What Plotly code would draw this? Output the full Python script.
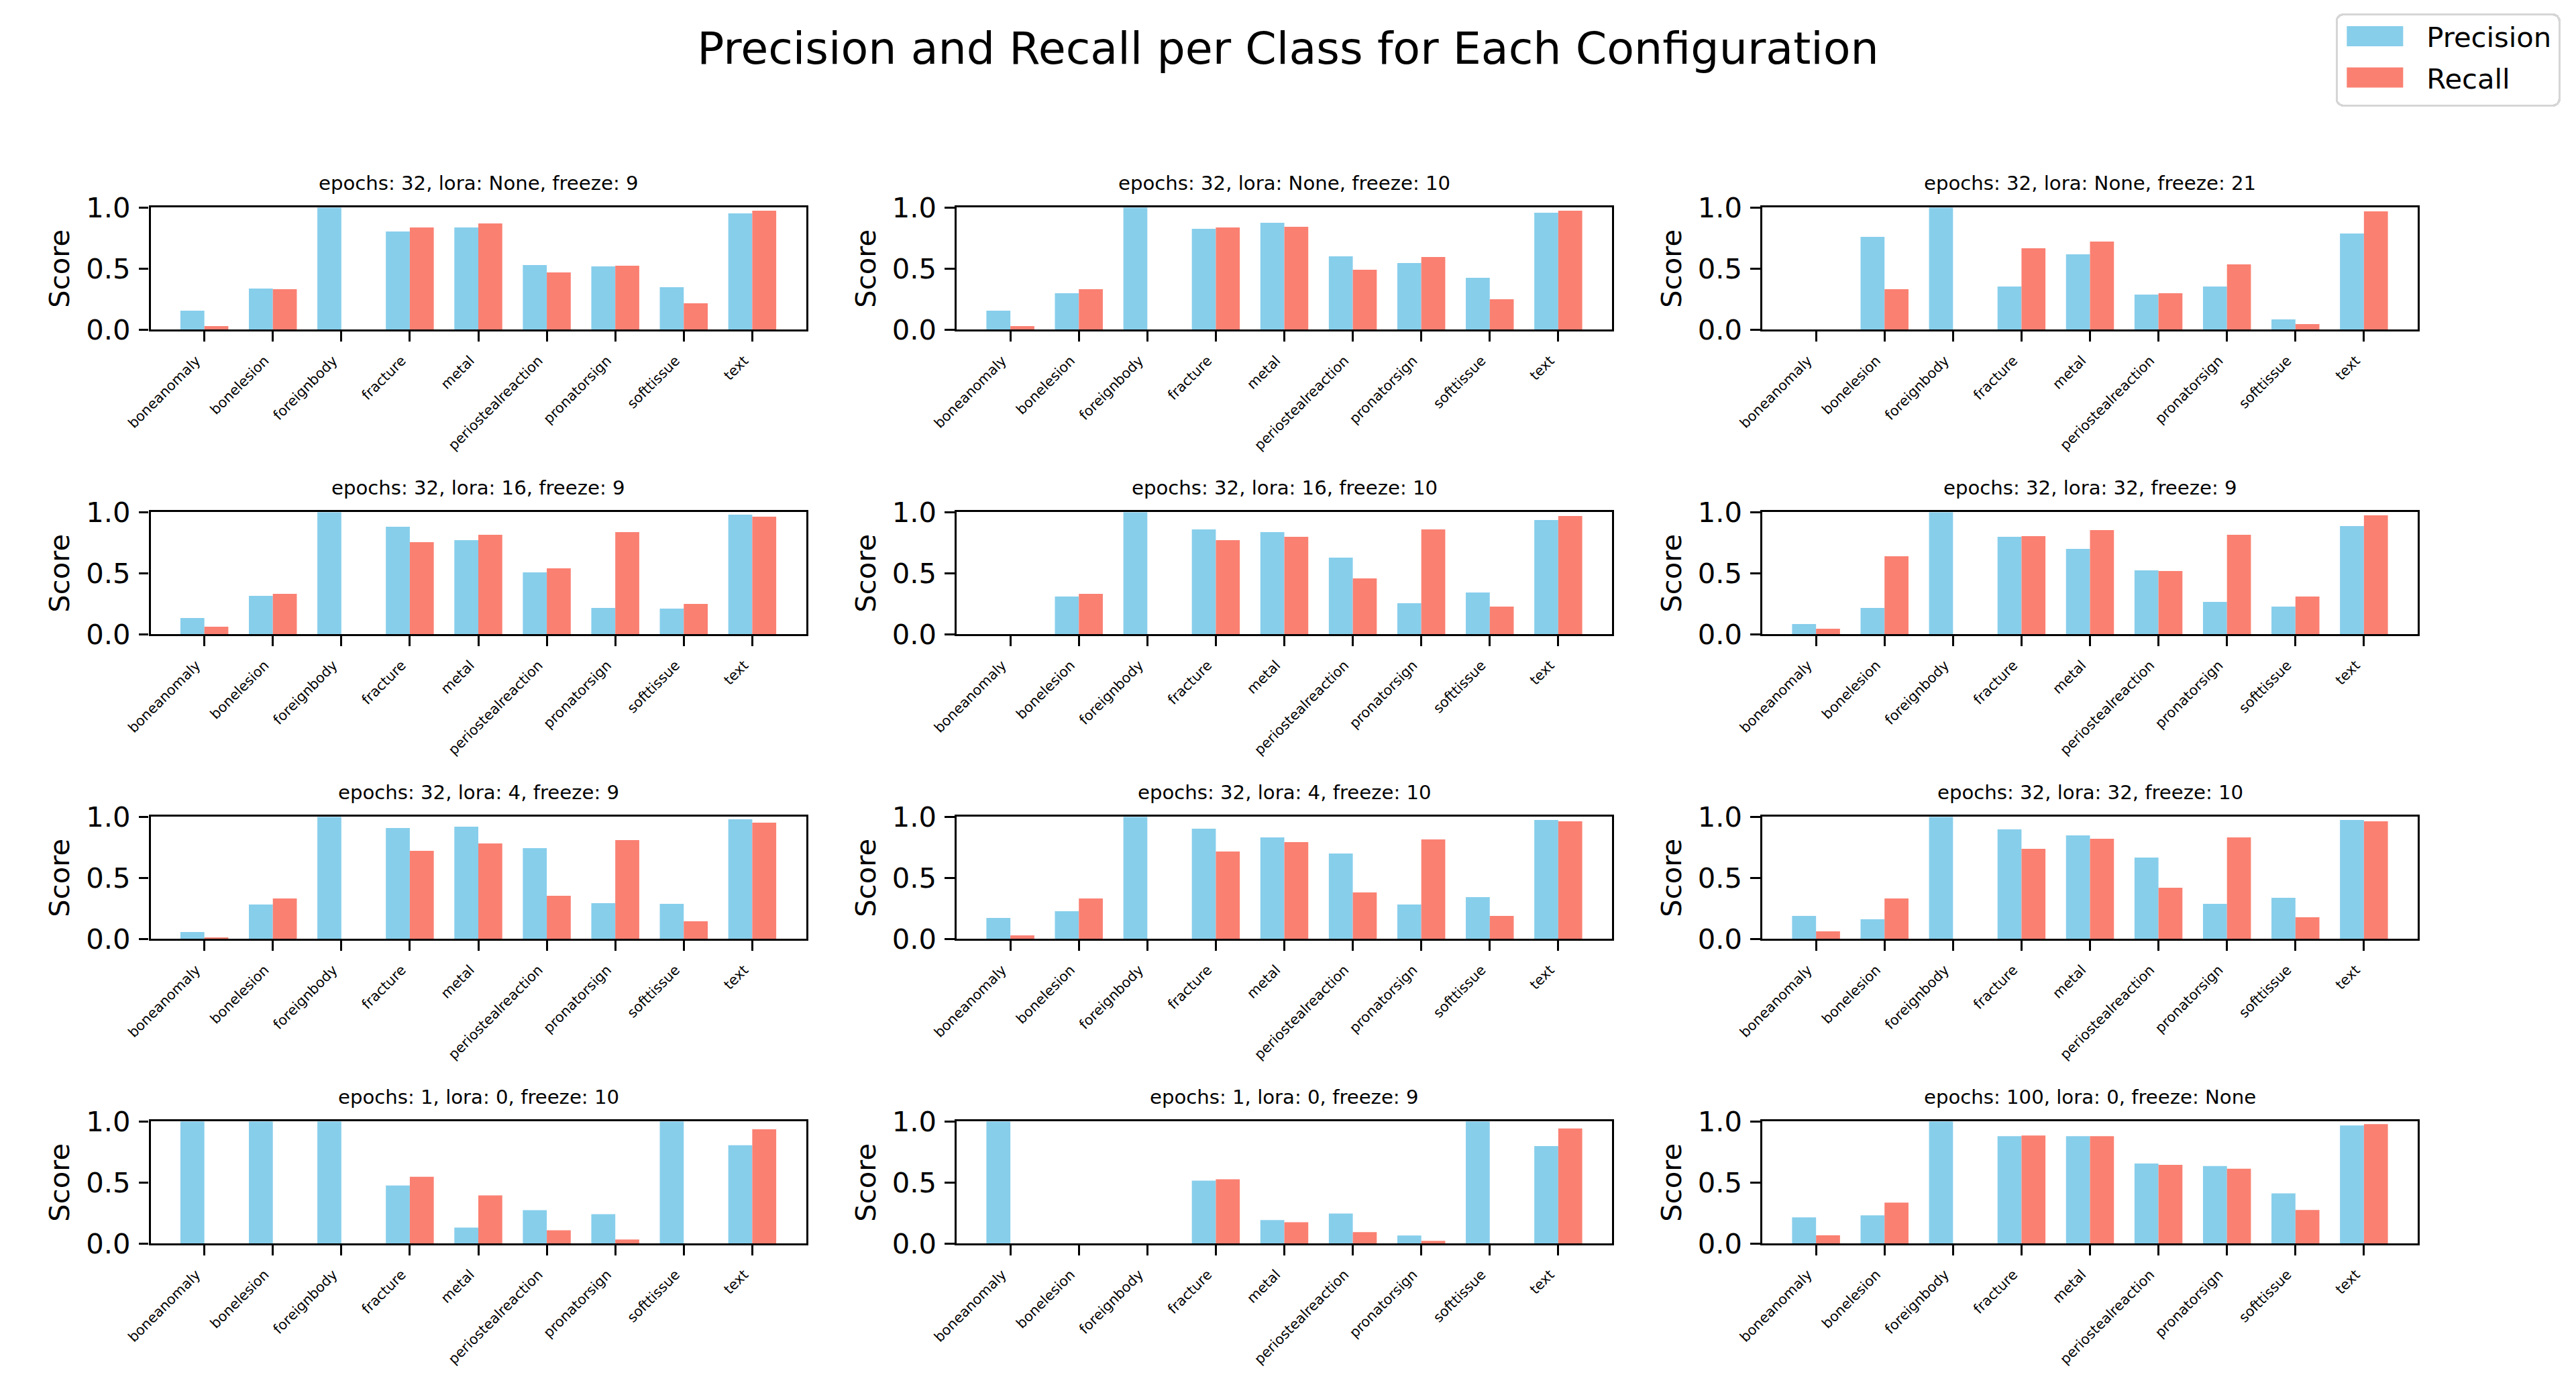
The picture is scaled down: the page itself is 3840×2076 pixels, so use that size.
import plotly.graph_objects as go

W, H = 3840, 2076

classes = ["boneanomaly", "bonelesion", "foreignbody", "fracture", "metal",
           "periostealreaction", "pronatorsign", "softtissue", "text"]

titles = ["epochs: 32, lora: None, freeze: 9", "epochs: 32, lora: None, freeze: 10", "epochs: 32, lora: None, freeze: 21",
          "epochs: 32, lora: 16, freeze: 9", "epochs: 32, lora: 16, freeze: 10", "epochs: 32, lora: 32, freeze: 9",
          "epochs: 32, lora: 4, freeze: 9", "epochs: 32, lora: 4, freeze: 10", "epochs: 32, lora: 32, freeze: 10",
          "epochs: 1, lora: 0, freeze: 10", "epochs: 1, lora: 0, freeze: 9", "epochs: 100, lora: 0, freeze: None"]

precision_0 = [.156, .337, 1, .804, .837, .529, .518, .348, .952]
recall_0 = [.029, .331, 0, .837, .870, .469, .524, .216, .974]
precision_1 = [.156, .299, 1, .826, .875, .601, .546, .425, .958]
recall_1 = [.029, .331, 0, .837, .842, .491, .595, .249, .974]
precision_2 = [0, .760, 1, .353, .617, .288, .353, .084, .788]
recall_2 = [0, .331, 0, .667, .722, .299, .535, .046, .969]
precision_3 = [.134, .315, 1, .881, .771, .507, .216, .211, .980]
recall_3 = [.062, .331, 0, .755, .815, .540, .837, .249, .963]
precision_4 = [0, .310, 1, .859, .837, .628, .255, .342, .936]
recall_4 = [0, .331, 0, .771, .799, .458, .859, .227, .969]
precision_5 = [.084, .216, 1, .799, .700, .524, .266, .227, .886]
recall_5 = [.046, .639, 0, .804, .853, .518, .815, .310, .974]
precision_6 = [.057, .282, 1, .908, .919, .744, .293, .288, .980]
recall_6 = [.013, .331, 0, .722, .782, .353, .810, .145, .952]
precision_7 = [.172, .227, 1, .903, .832, .700, .282, .342, .974]
recall_7 = [.029, .331, 0, .716, .793, .381, .815, .189, .963]
precision_8 = [.189, .161, 1, .897, .848, .667, .288, .337, .974]
recall_8 = [.062, .331, 0, .738, .821, .419, .832, .178, .963]
precision_9 = [1, 1, 1, .476, .131, .274, .241, 1, .805]
recall_9 = [0, 0, 0, .547, .394, .109, .033, 0, .936]
precision_10 = [1, 0, 0, .515, .192, .246, .066, 1, .799]
recall_10 = [0, 0, 0, .526, .175, .093, .022, 0, .942]
precision_11 = [.215, .231, 1, .880, .880, .656, .635, .411, .967]
recall_11 = [.067, .335, 0, .885, .880, .645, .613, .275, .978]

precisions = [precision_0, precision_1, precision_2, precision_3, precision_4, precision_5,
              precision_6, precision_7, precision_8, precision_9, precision_10, precision_11]
recalls = [recall_0, recall_1, recall_2, recall_3, recall_4, recall_5,
           recall_6, recall_7, recall_8, recall_9, recall_10, recall_11]

FONT = "DejaVu Sans"
SKY, SALMON = "#87CEEB", "#FA8072"
LW = 3.33
col_left = [224.5, 1426, 2627]
ax_w = 977
row_top = [309.3, 763.3, 1217.3, 1671.3]
ax_h = 182

fig = go.Figure()
layout = {}
annotations = []
for i in range(12):
    r, c = divmod(i, 3)
    n = "" if i == 0 else str(i + 1)
    xa, ya = f"x{n}", f"y{n}"
    fig.add_bar(x=classes, y=precisions[i], name="Precision", marker_color=SKY, marker_line_width=0,
                xaxis=xa, yaxis=ya, legendgroup="Precision", showlegend=i == 0, offsetgroup="p")
    fig.add_bar(x=classes, y=recalls[i], name="Recall", marker_color=SALMON, marker_line_width=0,
                xaxis=xa, yaxis=ya, legendgroup="Recall", showlegend=i == 0, offsetgroup="r")
    x0, y0 = col_left[c], row_top[r]
    layout[f"xaxis{n}"] = dict(
        domain=[x0 / W, (x0 + ax_w) / W], anchor=ya, range=[-0.785, 8.785], type="category",
        categoryorder="array", categoryarray=classes, automargin=False,
        tickmode="array", tickvals=classes, ticktext=classes, tickangle=-45,
        tickfont=dict(family=FONT, size=20.83, color="black"), ticks="outside", ticklen=14.6,
        tickwidth=LW, tickcolor="black", showline=True, linewidth=LW, linecolor="black",
        mirror=True, showgrid=False, zeroline=False, ticklabelstandoff=8, ticklabelshift=-12)
    layout[f"yaxis{n}"] = dict(
        domain=[1 - (y0 + ax_h) / H, 1 - y0 / H], anchor=xa, range=[0, 1], automargin=False,
        tickmode="array", tickvals=[0, 0.5, 1], ticktext=["0.0", "0.5", "1.0"],
        tickfont=dict(family=FONT, size=41.67, color="black"), ticks="outside", ticklen=14.6,
        tickwidth=LW, tickcolor="black", showline=True, linewidth=LW, linecolor="black",
        mirror=True, showgrid=False, zeroline=False, ticklabelstandoff=4,
        title=dict(text="Score", font=dict(family=FONT, size=41.67, color="black"), standoff=12))
    annotations.append(dict(text=titles[i], xref="paper", yref="paper", x=(x0 + ax_w / 2) / W,
                            y=1 - (y0 - 17) / H, xanchor="center", yanchor="bottom", showarrow=False,
                            font=dict(family=FONT, size=29.17, color="black")))

fig.update_layout(
    width=W, height=H, margin=dict(l=0, r=0, t=0, b=0), autosize=False,
    paper_bgcolor="white", plot_bgcolor="white", barmode="group", bargap=0.3, bargroupgap=0,
    title=dict(text="Precision and Recall per Class for Each Configuration", x=0.5, xanchor="center",
               y=1 - 72 / H, yanchor="middle", font=dict(family=FONT, size=66.67, color="black"), automargin=False),
    legend=dict(x=3812 / W, xanchor="right", y=1 - 17 / H, yanchor="top", bgcolor="white",
                bordercolor="#d6d6d6", borderwidth=3.33, itemwidth=125, traceorder="grouped", tracegroupgap=4.5,
                font=dict(family=FONT, size=41.67, color="black")),
    annotations=annotations, **layout)

post = """
document.body.style.margin = '0';
var gd = document.getElementById('{plot_id}');
gd.querySelectorAll('.legend .legendpoints path').forEach(function(p){ p.setAttribute('d','M32.5,15H-51.5V-15H32.5Z'); });
gd.querySelectorAll('.legend').forEach(function(l){ l.setAttribute('overflow','visible'); l.style.overflow='visible'; });
gd.querySelectorAll('.legend rect.bg').forEach(function(b){
  b.setAttribute('rx','10'); b.setAttribute('ry','10');
  b.setAttribute('y','4.67'); b.setAttribute('height','135.67');
  b.setAttribute('x','4.2'); b.setAttribute('width','332.17');
});
"""
fig.write_html("out.html", post_script=post, config=dict(displayModeBar=False))
